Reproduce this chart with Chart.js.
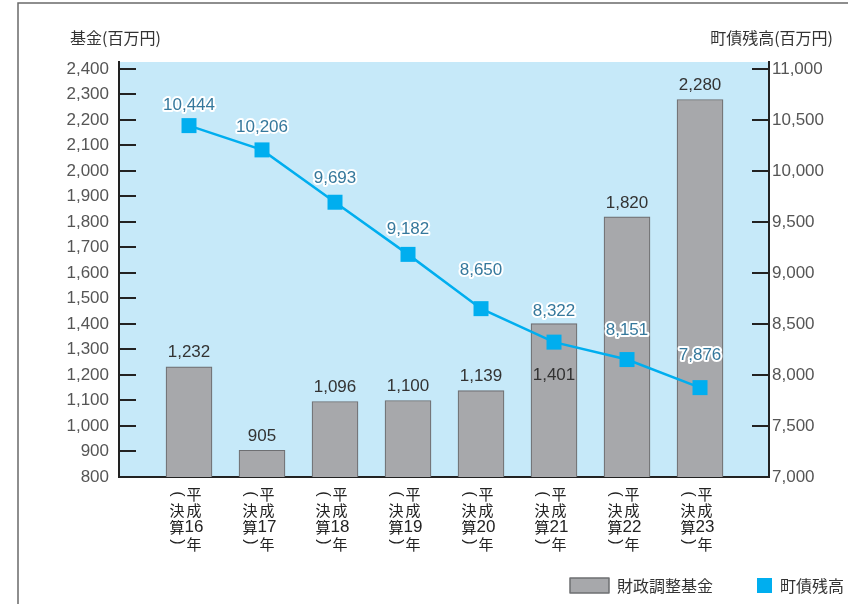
<!DOCTYPE html>
<html>
<head>
<meta charset="utf-8">
<script src="https://cdn.jsdelivr.net/npm/chart.js@4.4.0/dist/chart.umd.min.js"></script>
<style>
html,body{margin:0;padding:0;background:#fff;}
#wrap{position:relative;width:848px;height:604px;}
canvas{display:block;}
</style>
</head>
<body>
<div id="wrap"><canvas id="c" width="848" height="604"></canvas></div>
<script>
// ---- data ----
const eraLabel = '平成';
const years = ['16', '17', '18', '19', '20', '21', '22', '23'];
const yearSuffix = '年';
const subLabel = '決算';
const fundValues = [1232, 905, 1096, 1100, 1139, 1401, 1820, 2280];
const debtValues = [10444, 10206, 9693, 9182, 8650, 8322, 8151, 7876];
const leftTicks = [800, 900, 1000, 1100, 1200, 1300, 1400, 1500, 1600, 1700, 1800, 1900, 2000, 2100, 2200, 2300, 2400];
const rightTicks = [7000, 7500, 8000, 8500, 9000, 9500, 10000, 10500, 11000];
const fundName = '財政調整基金';
const debtName = '町債残高';
const leftTitle = '基金(百万円)';
const rightTitle = '町債残高(百万円)';

// ---- style ----
const debtLabelLift = [20, 23, 24, 25, 38, 31, 29, 32];
const LATIN = '"Liberation Sans", Arial, "Noto Sans CJK JP", sans-serif';
const CJK = '"Noto Sans CJK JP", sans-serif';
const fmt = v => v.toLocaleString('en-US');

const barFill = '#A7A8AB', barEdge = '#6E6F72', lineColor = '#00AEEF';

function rotParen(ctx, ch, x, y) {
  ctx.save();
  ctx.translate(x, y);
  ctx.rotate(Math.PI / 2);
  ctx.fillText(ch, 0, 0);
  ctx.restore();
}

const decor = {
  id: 'decor',
  beforeDraw(chart) {
    const {ctx, chartArea: a} = chart;
    ctx.save();
    ctx.fillStyle = '#fff';
    ctx.fillRect(0, 0, chart.width, chart.height);
    // frame
    ctx.strokeStyle = '#6a6a6a';
    ctx.lineWidth = 1.5;
    ctx.beginPath();
    ctx.moveTo(18, 604); ctx.lineTo(18, 3); ctx.lineTo(848, 3);
    ctx.stroke();
    // plot background
    ctx.fillStyle = '#C6E9F9';
    ctx.fillRect(a.left, a.top, a.right - a.left, a.bottom - a.top);
    ctx.restore();
  },
  afterDatasetsDraw(chart) {
    const {ctx, chartArea: a, scales} = chart;
    const x = scales.x, yl = scales.y, yr = scales.y2;
    ctx.save();
    // inward tick marks
    ctx.strokeStyle = '#222';
    ctx.lineWidth = 2;
    leftTicks.forEach(v => {
      if (v === leftTicks[0]) return;
      const py = Math.round(yl.getPixelForValue(v));
      ctx.beginPath(); ctx.moveTo(a.left, py); ctx.lineTo(a.left + 17, py); ctx.stroke();
    });
    rightTicks.forEach(v => {
      if (v === rightTicks[0]) return;
      const py = Math.round(yr.getPixelForValue(v));
      ctx.beginPath(); ctx.moveTo(a.right - 17, py); ctx.lineTo(a.right, py); ctx.stroke();
    });

    // bar value labels
    ctx.textAlign = 'center';
    ctx.textBaseline = 'middle';
    ctx.font = '17px ' + LATIN;
    ctx.fillStyle = '#333';
    fundValues.forEach((v, i) => {
      const cx = x.getPixelForValue(i);
      const top = yl.getPixelForValue(v);
      const linePy = yr.getPixelForValue(debtValues[i]);
      let ly = top - 14;
      if (Math.abs(linePy - ly) < 40) ly = top + 52;
      ctx.fillText(fmt(v), cx, ly);
    });
    ctx.restore();
  },
  afterDraw(chart) {
    const {ctx, scales} = chart;
    const x = scales.x, yr = scales.y2;
    ctx.save();
    ctx.textAlign = 'center';
    ctx.textBaseline = 'middle';
    // line labels with white halo
    ctx.font = '17px ' + LATIN;
    ctx.lineJoin = 'round';
    debtValues.forEach((v, i) => {
      const cx = x.getPixelForValue(i);
      const py = yr.getPixelForValue(v) - debtLabelLift[i];
      ctx.strokeStyle = '#fff';
      ctx.lineWidth = 4;
      ctx.strokeText(fmt(v), cx, py);
      ctx.fillStyle = '#35789C';
      ctx.fillText(fmt(v), cx, py);
    });

    // vertical category labels
    ctx.fillStyle = '#222';
    years.forEach((yr_, i) => {
      const cx = x.getPixelForValue(i);
      const rc = cx + 5, lc = cx - 12;
      ctx.font = '15px ' + CJK;
      ctx.fillText(eraLabel[0], rc, 494);
      ctx.fillText(eraLabel[1], rc, 510);
      ctx.font = '17px ' + LATIN;
      ctx.fillText(yr_, rc, 527);
      ctx.font = '15px ' + CJK;
      ctx.fillText(yearSuffix, rc, 544);
      ctx.fillText(subLabel[0], lc, 510);
      ctx.fillText(subLabel[1], lc, 527);
      ctx.font = '16px ' + LATIN;
      rotParen(ctx, '(', lc, 494);
      rotParen(ctx, ')', lc, 542);
    });

    // axis titles
    ctx.font = '16px ' + CJK;
    ctx.fillStyle = '#333';
    ctx.textAlign = 'left';
    ctx.fillText(leftTitle, 70, 38);
    ctx.textAlign = 'right';
    ctx.fillText(rightTitle, 833, 38);

    // legend
    ctx.textAlign = 'left';
    ctx.fillStyle = barFill;
    ctx.strokeStyle = barEdge;
    ctx.lineWidth = 1.5;
    ctx.fillRect(570, 578, 39, 15);
    ctx.strokeRect(570, 578, 39, 15);
    ctx.fillStyle = '#333';
    ctx.font = '16px ' + CJK;
    ctx.fillText(chart.data.datasets[1].label, 617, 586);
    ctx.fillStyle = lineColor;
    ctx.fillRect(757, 578, 15, 15);
    ctx.fillStyle = '#333';
    ctx.fillText(chart.data.datasets[0].label, 780, 586);
    ctx.restore();
  }
};

const tickFont = {size: 17, family: LATIN};

new Chart(document.getElementById('c'), {
  type: 'bar',
  data: {
    datasets: [
      {
        type: 'line',
        label: debtName,
        data: debtValues.map((v, i) => ({x: i, y: v})),
        yAxisID: 'y2',
        borderColor: lineColor,
        backgroundColor: lineColor,
        borderWidth: 2.5,
        pointStyle: 'rect',
        pointRadius: 10.6,
        pointBorderWidth: 0,
        pointHoverRadius: 10.6,
        tension: 0,
        order: 0
      },
      {
        type: 'bar',
        label: fundName,
        data: fundValues.map((v, i) => ({x: i, y: v})),
        yAxisID: 'y',
        backgroundColor: barFill,
        borderColor: barEdge,
        borderWidth: 1.2,
        barThickness: 46,
        order: 1
      }
    ]
  },
  options: {
    responsive: false,
    animation: false,
    events: [],
    layout: {padding: {top: 62, left: 0, right: 0, bottom: 0}},
    plugins: {legend: {display: false}, tooltip: {enabled: false}},
    scales: {
      x: {
        type: 'linear',
        offset: false,
        min: -0.959,
        max: 7.945,
        ticks: {display: false},
        grid: {display: false, drawTicks: false, offset: false},
        border: {display: true, color: '#222', width: 2},
        afterBuildTicks: s => { s.ticks = years.map((_, i) => ({value: i})); },
        afterFit: s => { s.height = 127; }
      },
      y: {
        position: 'left',
        min: 800,
        max: 2427,
        ticks: {font: tickFont, color: '#555', padding: 10, callback: v => fmt(v)},
        grid: {display: false, drawTicks: false, tickLength: 0},
        border: {display: true, color: '#222', width: 2},
        afterBuildTicks: s => { s.ticks = leftTicks.map(v => ({value: v})); },
        afterFit: s => { s.width = 119; }
      },
      y2: {
        position: 'right',
        min: 7000,
        max: 11067.5,
        ticks: {font: tickFont, color: '#555', padding: 3, callback: v => fmt(v)},
        grid: {display: false, drawTicks: false, tickLength: 0},
        border: {display: true, color: '#222', width: 2},
        afterBuildTicks: s => { s.ticks = rightTicks.map(v => ({value: v})); },
        afterFit: s => { s.width = 79; }
      }
    }
  },
  plugins: [decor]
});
</script>
</body>
</html>
